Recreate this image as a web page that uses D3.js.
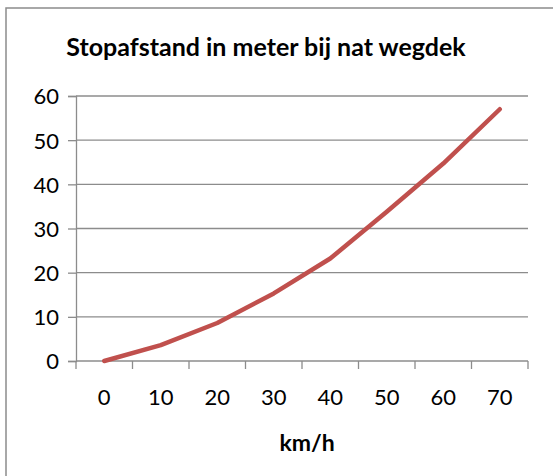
<!DOCTYPE html>
<html>
<head>
<meta charset="utf-8">
<script src="https://cdn.jsdelivr.net/npm/d3@7"></script>
<style>
  body { margin: 0; background: #fff; }
  svg { display: block; font-family: Lato, "Open Sans", sans-serif; }
</style>
</head>
<body>
<svg id="chart" width="553" height="476"></svg>
<script>
// speed categories (km/h) and stopping distance (m) on a wet road
var speeds = ["0", "10", "20", "30", "40", "50", "60", "70"];
var distance = [0, 3.6, 8.6, 15.3, 23.2, 33.8, 44.7, 57];
var yTicks = [0, 10, 20, 30, 40, 50, 60];
var title = "Stopafstand in meter bij nat wegdek";
var xTitle = "km/h";

var svg = d3.select("#chart");

// chart frame (only left/top edges fall inside the picture)
svg.append("rect")
    .attr("x", 6).attr("y", 8)
    .attr("width", 600).attr("height", 600)
    .attr("fill", "none")
    .attr("stroke", "#8c8c8c")
    .attr("stroke-width", 1.5);

var margin = {top: 96, left: 76},
    width = 528 - 76,
    height = 361 - 96,
    g = svg.append("g").attr("transform", "translate(" + margin.left + "," + margin.top + ")");

var x = d3.scaleBand()
    .domain(speeds)
    .range([0, width]);

var y = d3.scaleLinear()
    .domain([0, 60])
    .range([height, 0]);

//Gridlines
g.append("g")
    .selectAll("line")
    .data(yTicks.filter(function(d) { return d > 0; }))
    .enter().append("line")
    .attr("x1", 0).attr("x2", width)
    .attr("y1", function(d) { return y(d); })
    .attr("y2", function(d) { return y(d); })
    .attr("stroke", "#8c8c8c")
    .attr("stroke-width", 1.3);

//Y Axis
var yAxis = g.append("g")
    .call(d3.axisLeft(y).tickValues(yTicks).tickSize(8).tickPadding(9));
yAxis.select(".domain").attr("stroke", "#8c8c8c").attr("stroke-width", 1.3);
yAxis.selectAll(".tick line").attr("stroke", "#8c8c8c").attr("stroke-width", 1.3);
yAxis.selectAll("text").attr("font-size", 22).attr("fill", "#000").attr("dy", "0.36em")
    .attr("font-family", "Lato, sans-serif");

//X Axis with ticks on category boundaries
var xAxis = g.append("g")
    .attr("transform", "translate(0," + height + ")");
xAxis.append("line")
    .attr("x1", 0).attr("x2", width)
    .attr("stroke", "#8c8c8c").attr("stroke-width", 1.3);
xAxis.selectAll(".bt")
    .data(d3.range(speeds.length + 1))
    .enter().append("line")
    .attr("class", "bt")
    .attr("x1", function(i) { return i * x.step(); })
    .attr("x2", function(i) { return i * x.step(); })
    .attr("y1", 0).attr("y2", 8)
    .attr("stroke", "#8c8c8c").attr("stroke-width", 1.3);
xAxis.selectAll("text")
    .data(speeds)
    .enter().append("text")
    .attr("x", function(d) { return x(d) + x.bandwidth() / 2; })
    .attr("y", 44)
    .attr("text-anchor", "middle")
    .attr("font-size", 22)
    .text(function(d) { return d; });

//Line
var line = d3.line()
    .x(function(d, i) { return x(speeds[i]) + x.bandwidth() / 2; })
    .y(function(d) { return y(d); });

g.append("path")
    .datum(distance)
    .attr("fill", "none")
    .attr("stroke", "#c0504d")
    .attr("stroke-width", 4.5)
    .attr("stroke-linejoin", "round")
    .attr("stroke-linecap", "round")
    .attr("d", line);

//Titles
svg.append("text")
    .attr("x", 266).attr("y", 56)
    .attr("text-anchor", "middle")
    .attr("font-size", 25)
    .attr("font-weight", "bold")
    .text(title);

svg.append("text")
    .attr("x", 307).attr("y", 451)
    .attr("text-anchor", "middle")
    .attr("font-size", 23)
    .attr("font-weight", "bold")
    .text(xTitle);
</script>
</body>
</html>
